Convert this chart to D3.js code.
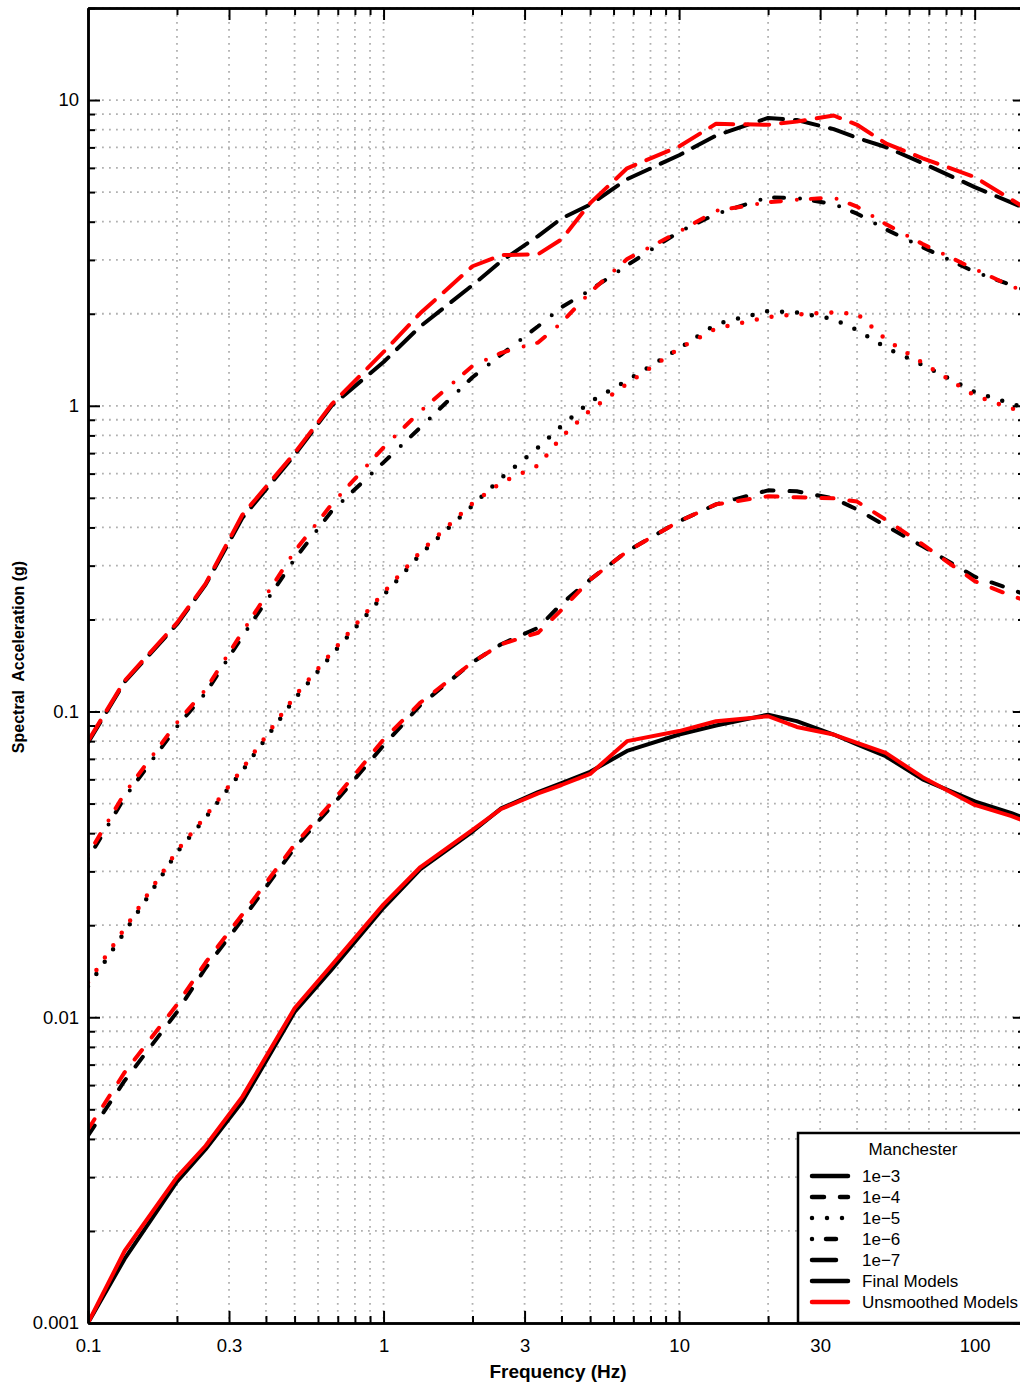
<!DOCTYPE html>
<html>
<head>
<meta charset="utf-8">
<script src="https://cdn.jsdelivr.net/npm/d3@7"></script>
<style>
  body { margin: 0; background: #fff; }
  text { font-family: "Liberation Sans", Arial, Helvetica, sans-serif; }
</style>
</head>
<body>
<svg id="chart" width="1020" height="1389"></svg>
<script>
// Frequencies (Hz) at which the hazard spectra are sampled
const freqs = [0.1, 0.133, 0.2, 0.25, 0.333, 0.5, 0.667, 1, 1.333, 2, 2.5, 3.333, 4, 5,
               6.667, 10, 13.33, 20, 25, 33.33, 40, 50, 66.67, 100, 133.3, 150];

// Spectral acceleration (g), final (smoothed) models
const final_1e3 = [0.001, 0.00162, 0.0029, 0.0037, 0.0053, 0.0104, 0.0143, 0.0228, 0.0305, 0.0405, 0.0482, 0.0545, 0.0583, 0.0635,
                   0.0743, 0.0841, 0.090, 0.0977, 0.093, 0.0841, 0.078, 0.0714, 0.060, 0.0508, 0.0465, 0.0445];
const final_1e4 = [0.0041, 0.0062, 0.0104, 0.0145, 0.0209, 0.0358, 0.049, 0.0775, 0.105, 0.145, 0.166, 0.188, 0.225, 0.27,
                   0.334, 0.419, 0.476, 0.529, 0.525, 0.498, 0.458, 0.405, 0.347, 0.276, 0.251, 0.240];
const final_1e5 = [0.0126, 0.019, 0.0346, 0.045, 0.0641, 0.11, 0.153, 0.240, 0.327, 0.472, 0.58, 0.73, 0.86, 1.03,
                   1.21, 1.54, 1.85, 2.04, 2.02, 1.92, 1.77, 1.55, 1.36, 1.11, 1.015, 0.98];
const final_1e6 = [0.033, 0.0523, 0.0893, 0.115, 0.176, 0.315, 0.452, 0.653, 0.85, 1.24, 1.47, 1.82, 2.1, 2.39,
                   2.88, 3.71, 4.24, 4.81, 4.78, 4.57, 4.25, 3.78, 3.30, 2.74, 2.48, 2.38];
const final_1e7 = [0.079, 0.125, 0.193, 0.26, 0.43, 0.69, 1.0, 1.39, 1.82, 2.48, 2.97, 3.59, 4.1, 4.55,
                   5.51, 6.6, 7.65, 8.74, 8.6, 8.03, 7.52, 7.02, 6.22, 5.19, 4.62, 4.4];

// Spectral acceleration (g), unsmoothed models
const raw_1e3 = [0.001, 0.00172, 0.003, 0.0038, 0.0055, 0.0107, 0.0148, 0.0234, 0.031, 0.041, 0.048, 0.054, 0.0575, 0.0625,
                 0.080, 0.0863, 0.0929, 0.0965, 0.089, 0.0841, 0.079, 0.0732, 0.061, 0.0495, 0.0455, 0.0435];
const raw_1e4 = [0.0043, 0.0066, 0.0110, 0.0151, 0.0217, 0.0367, 0.0503, 0.081, 0.107, 0.145, 0.166, 0.181, 0.215, 0.27,
                 0.334, 0.419, 0.476, 0.506, 0.502, 0.498, 0.486, 0.424, 0.352, 0.267, 0.239, 0.230];
const raw_1e5 = [0.013, 0.0195, 0.035, 0.0455, 0.065, 0.112, 0.156, 0.245, 0.333, 0.48, 0.56, 0.638, 0.79, 0.967,
                 1.18, 1.54, 1.79, 1.95, 1.99, 2.02, 2.0, 1.65, 1.38, 1.08, 0.98, 0.95];
const raw_1e6 = [0.034, 0.054, 0.092, 0.118, 0.182, 0.334, 0.476, 0.731, 0.96, 1.35, 1.49, 1.61, 1.87, 2.35,
                 3.02, 3.71, 4.34, 4.63, 4.72, 4.80, 4.48, 3.93, 3.38, 2.80, 2.46, 2.36];
const raw_1e7 = [0.08, 0.126, 0.195, 0.262, 0.44, 0.70, 1.01, 1.50, 2.01, 2.86, 3.11, 3.13, 3.5, 4.6,
                 5.98, 7.05, 8.36, 8.3, 8.5, 8.9, 8.3, 7.22, 6.45, 5.6, 4.72, 4.4];

const probLabels = ["1e\u22123", "1e\u22124", "1e\u22125", "1e\u22126", "1e\u22127"];
const xTickLabels = [0.1, 0.3, 1, 3, 10, 30, 100];
const yTickLabels = [0.001, 0.01, 0.1, 1, 10];
const legendTitle = "Manchester";
const modelLabels = ["Final Models", "Unsmoothed Models"];
const xTitle = "Frequency (Hz)";
const yTitle = "Spectral  Acceleration (g)";

// line style per exceedance level
const dashes = [null, "12,16", "0,15", "0,14,10,16", "24,12"];
const finalColor = "#000000";
const rawColor = "#ff0000";

const finals = [final_1e3, final_1e4, final_1e5, final_1e6, final_1e7];
const raws = [raw_1e3, raw_1e4, raw_1e5, raw_1e6, raw_1e7];

const L = 88, R = 1025, T = 8, B = 1323;
const svg = d3.select("#chart");
svg.append("rect").attr("width", 1020).attr("height", 1389).attr("fill", "#fff");

const x = d3.scaleLog().domain([0.1, 148]).range([L, R]);
const y = d3.scaleLog().domain([0.001, 20]).range([B, T]);

// every 1..9 multiple inside each decade
function logSteps(lo, hi) {
  const out = [];
  for (let e = Math.floor(Math.log10(lo)); e <= Math.ceil(Math.log10(hi)); e++) {
    for (let k = 1; k <= 9; k++) {
      const v = +(k * Math.pow(10, e)).toPrecision(6);
      if (v >= lo * 0.999 && v <= hi * 1.001) out.push(v);
    }
  }
  return out;
}
const xAll = logSteps(0.1, 148);
const yAll = logSteps(0.001, 20);
const xMinor = xAll.filter(v => !xTickLabels.some(m => Math.abs(m - v) / m < 1e-6));
const yMinor = yAll.filter(v => !yTickLabels.some(m => Math.abs(m - v) / m < 1e-6));

// dotted grid
const grid = svg.append("g").attr("stroke", "#b0b0b0").attr("stroke-width", 1.8)
  .attr("stroke-dasharray", "1.8,5.2");
grid.selectAll("line.gx").data(xAll.filter(v => v > 0.1)).join("line")
  .attr("x1", d => x(d)).attr("x2", d => x(d)).attr("y1", T).attr("y2", B);
grid.selectAll("line.gy").data(yAll.filter(v => v > 0.001)).join("line")
  .attr("x1", L).attr("x2", R).attr("y1", d => y(d)).attr("y2", d => y(d));

// curves
svg.append("clipPath").attr("id", "plotClip").append("rect")
  .attr("x", L).attr("y", T).attr("width", R - L).attr("height", B - T);
const line = d3.line().x(d => x(d[0])).y(d => y(d[1]));
const curves = svg.append("g").attr("clip-path", "url(#plotClip)")
  .attr("fill", "none").attr("stroke-width", 4).attr("stroke-linecap", "round").attr("stroke-linejoin", "round");
[[finals, finalColor], [raws, rawColor]].forEach(([set, color]) => {
  set.forEach((vals, i) => {
    curves.append("path")
      .datum(freqs.map((f, j) => [f, vals[j]]))
      .attr("d", line)
      .attr("stroke", color)
      .attr("stroke-width", dashes[i] === "0,15" ? 4.5 : 4)
      .attr("stroke-dasharray", dashes[i]);
  });
});

// axes with inward ticks on all four sides
function styleAxis(g) {
  g.selectAll(".domain").attr("stroke", "#000").attr("stroke-width", 2.5);
  g.selectAll(".tick line").attr("stroke", "#000").attr("stroke-width", 2);
  g.selectAll("text").attr("font-size", 18.5).attr("fill", "#000")
    .attr("font-family", '"Liberation Sans", Arial, Helvetica, sans-serif');
}
const fmt = d3.format("~g");
svg.append("g").attr("transform", `translate(0,${B})`)
  .call(d3.axisBottom(x).tickValues(xMinor).tickSize(-7).tickSizeOuter(0).tickFormat(""))
  .call(styleAxis);
svg.append("g").attr("transform", `translate(0,${B})`)
  .call(d3.axisBottom(x).tickValues(xTickLabels).tickSize(-12).tickSizeOuter(0).tickPadding(16).tickFormat(fmt))
  .call(styleAxis);
svg.append("g").attr("transform", `translate(0,${T})`)
  .call(d3.axisTop(x).tickValues(xMinor).tickSize(-7).tickSizeOuter(0).tickFormat(""))
  .call(styleAxis);
svg.append("g").attr("transform", `translate(0,${T})`)
  .call(d3.axisTop(x).tickValues(xTickLabels).tickSize(-12).tickSizeOuter(0).tickFormat(""))
  .call(styleAxis);
svg.append("g").attr("transform", `translate(${L},0)`)
  .call(d3.axisLeft(y).tickValues(yMinor).tickSize(-7).tickSizeOuter(0).tickFormat(""))
  .call(styleAxis);
svg.append("g").attr("transform", `translate(${L},0)`)
  .call(d3.axisLeft(y).tickValues(yTickLabels).tickSize(-12).tickSizeOuter(0).tickPadding(9).tickFormat(fmt))
  .call(styleAxis);
svg.append("g").attr("transform", `translate(${R},0)`)
  .call(d3.axisRight(y).tickValues(yMinor).tickSize(-7).tickSizeOuter(0).tickFormat(""))
  .call(styleAxis);
svg.append("g").attr("transform", `translate(${R},0)`)
  .call(d3.axisRight(y).tickValues(yTickLabels).tickSize(-12).tickSizeOuter(0).tickFormat(""))
  .call(styleAxis);

// axis titles
svg.append("text").attr("x", 558).attr("y", 1378).attr("text-anchor", "middle")
  .attr("font-size", 19).attr("font-weight", "bold").text(xTitle);
svg.append("text").attr("transform", "translate(24,657) rotate(-90)").attr("text-anchor", "middle")
  .attr("font-size", 16).attr("font-weight", "bold").style("white-space", "pre").text(yTitle);

// legend
const lg = svg.append("g");
lg.append("rect").attr("x", 798).attr("y", 1133).attr("width", 240).attr("height", B - 1133)
  .attr("fill", "#fff").attr("stroke", "#000").attr("stroke-width", 2.5);
lg.append("text").attr("x", 913).attr("y", 1155).attr("text-anchor", "middle")
  .attr("font-size", 17).text(legendTitle);
const rows = probLabels.map((t, i) => ({ text: t, color: finalColor, dash: dashes[i] }))
  .concat([{ text: modelLabels[0], color: finalColor, dash: null },
           { text: modelLabels[1], color: rawColor, dash: null }]);
rows.forEach((r, i) => {
  const base = 1182 + i * 21;
  lg.append("line").attr("x1", 812).attr("x2", 848).attr("y1", base - 6).attr("y2", base - 6)
    .attr("stroke", r.color).attr("stroke-width", 4.5).attr("stroke-linecap", "round")
    .attr("stroke-dasharray", r.dash);
  lg.append("text").attr("x", 862).attr("y", base).attr("font-size", 17).text(r.text);
});
</script>
</body>
</html>
